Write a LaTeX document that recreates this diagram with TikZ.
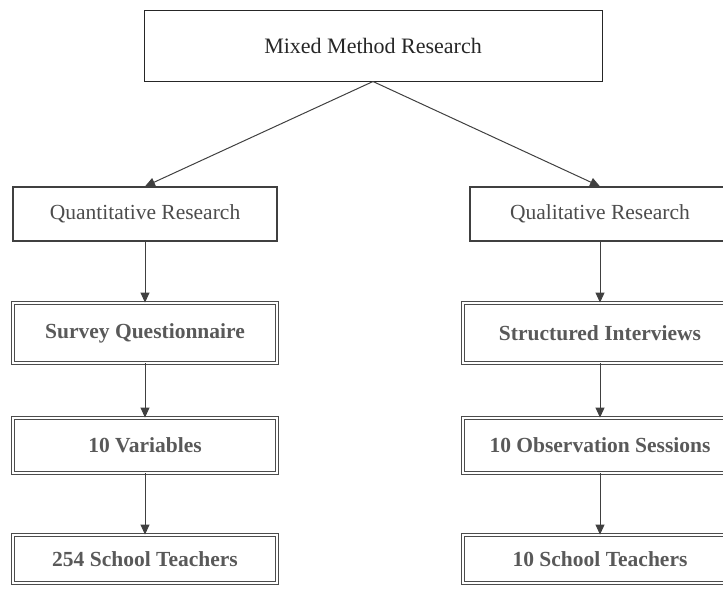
\documentclass[tikz,border=0pt]{standalone}
\usepackage{fontspec}
\setmainfont{Liberation Serif}
\usetikzlibrary{arrows.meta}
\begin{document}
\begin{tikzpicture}[x=1pt,y=-1pt,
  box/.style={draw=black!75, line width=1.2pt, rectangle, inner sep=0pt, font=\fontsize{21.5}{24}\selectfont, text=black!70},
  topbox/.style={draw=black!85, line width=1pt, rectangle, inner sep=0pt, font=\fontsize{22}{25}\selectfont, text=black!85},
  subbox/.style={draw=black!70, double=white, double distance=1.8pt, line width=0.9pt, rectangle, inner sep=0pt, font=\bfseries\fontsize{21.5}{24}\selectfont, text=black!65},
  conn/.style={draw=black!75, line width=1pt, -{Triangle[length=10pt,width=9pt,fill=black!75]}}]
\useasboundingbox (0,0) rectangle (723,589);
\clip (0,0) rectangle (723,589);
\node[topbox, minimum width=458pt, minimum height=71pt] (mmr) at (373,45.5) {Mixed Method Research};
\node[box, minimum width=264pt, minimum height=54pt] (qn) at (145,214) {Quantitative Research};
\node[box, minimum width=260pt, minimum height=54pt] (ql) at (600,214) {Qualitative Research};
\node[subbox, minimum width=264pt, minimum height=60pt] (sq) at (145,333) {Survey Questionnaire};
\node[subbox, minimum width=274pt, minimum height=60pt] (si) at (600,333) {Structured Interviews};
\node[subbox, minimum width=264pt, minimum height=55pt] (va) at (145,445.5) {10 Variables};
\node[subbox, minimum width=274pt, minimum height=55pt] (os) at (600,445.5) {10 Observation Sessions};
\node[subbox, minimum width=264pt, minimum height=48pt] (st) at (145,559) {254 School Teachers};
\node[subbox, minimum width=274pt, minimum height=48pt] (tt) at (600,559) {10 School Teachers};
\draw[conn] (mmr.south) -- (qn.north);
\draw[conn] (mmr.south) -- (ql.north);
\draw[conn] (qn.south) -- (sq.north);
\draw[conn] (ql.south) -- (si.north);
\draw[conn] (sq.south) -- (va.north);
\draw[conn] (si.south) -- (os.north);
\draw[conn] (va.south) -- (st.north);
\draw[conn] (os.south) -- (tt.north);
\end{tikzpicture}
\end{document}
